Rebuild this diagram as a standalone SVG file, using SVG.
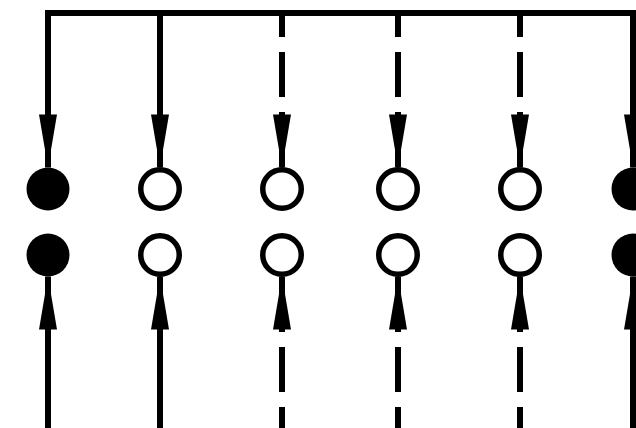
<svg xmlns="http://www.w3.org/2000/svg" width="636" height="428" viewBox="0 0 636 428">
<style>
.wire{fill:none;stroke:#000;stroke-width:6;stroke-linecap:butt}
.dash{stroke-dasharray:24 15 45 15 300}
.filled{fill:#000;stroke:none}
.open{fill:#fff;stroke:#000;stroke-width:5.5}
</style>
<defs>
<marker id="arr" markerUnits="userSpaceOnUse" markerWidth="60" markerHeight="22" viewBox="-54 -11 56 22" refX="0" refY="0" orient="auto">
<path d="M0,0 L-53,-9 L-53,9 Z" fill="#000"/>
</marker>
</defs>
<rect width="636" height="428" fill="#fff"/>
<g id="connectors">
<path class="wire" d="M48,13 H640"/>
<path class="wire" d="M48,431 H640"/>
<path class="wire" d="M48,10 V167.5" marker-end="url(#arr)"/>
<path class="wire" d="M160,13 V167.5" marker-end="url(#arr)"/>
<path class="wire dash" d="M282,13 V167.5" marker-end="url(#arr)"/>
<path class="wire dash" d="M398,13 V167.5" marker-end="url(#arr)"/>
<path class="wire dash" d="M520,13 V167.5" marker-end="url(#arr)"/>
<path class="wire" d="M633,10 V167.5" marker-end="url(#arr)"/>
<path class="wire" d="M48,434 V276.5" marker-end="url(#arr)"/>
<path class="wire" d="M160,431 V276.5" marker-end="url(#arr)"/>
<path class="wire dash" d="M282,431 V276.5" marker-end="url(#arr)"/>
<path class="wire dash" d="M398,431 V276.5" marker-end="url(#arr)"/>
<path class="wire dash" d="M520,431 V276.5" marker-end="url(#arr)"/>
<path class="wire" d="M633,434 V276.5" marker-end="url(#arr)"/>
</g>
<g id="n1"><circle class="filled" cx="48" cy="189" r="21.5"/></g>
<g id="n2"><circle class="filled" cx="48" cy="255" r="21.5"/></g>
<g id="n3"><circle class="open" cx="160" cy="189" r="19.25"/></g>
<g id="n4"><circle class="open" cx="160" cy="255" r="19.25"/></g>
<g id="n5"><circle class="open" cx="282" cy="189" r="19.25"/></g>
<g id="n6"><circle class="open" cx="282" cy="255" r="19.25"/></g>
<g id="n7"><circle class="open" cx="398" cy="189" r="19.25"/></g>
<g id="n8"><circle class="open" cx="398" cy="255" r="19.25"/></g>
<g id="n9"><circle class="open" cx="520" cy="189" r="19.25"/></g>
<g id="n10"><circle class="open" cx="520" cy="255" r="19.25"/></g>
<g id="n11"><circle class="filled" cx="633" cy="189" r="21.5"/></g>
<g id="n12"><circle class="filled" cx="633" cy="255" r="21.5"/></g>
</svg>
